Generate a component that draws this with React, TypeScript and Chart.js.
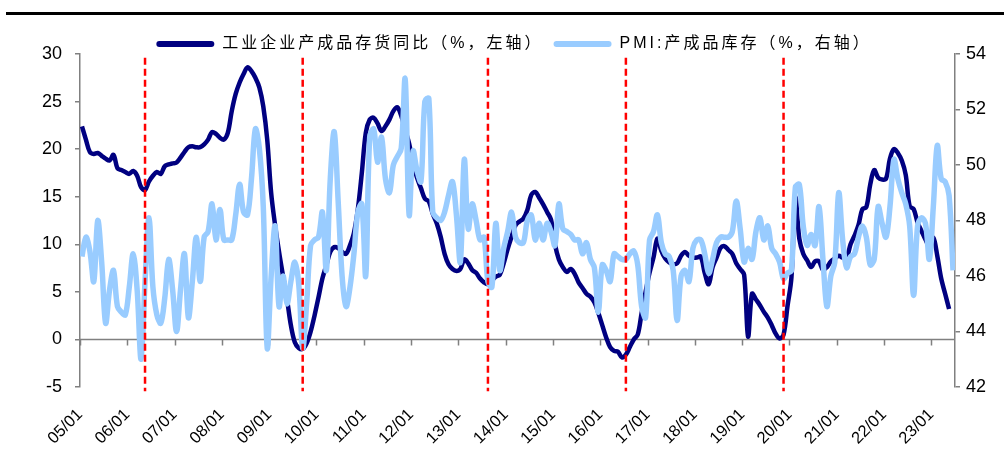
import React, { useEffect, useRef } from 'react';
import { Chart, registerables } from 'chart.js';

Chart.register(...registerables);

// Year tick labels (one per January, 2005–2023)
const tickLabels = [
  '05/01', '06/01', '07/01', '08/01', '09/01', '10/01', '11/01', '12/01', '13/01', '14/01',
  '15/01', '16/01', '17/01', '18/01', '19/01', '20/01', '21/01', '22/01', '23/01',
];

const seriesNames = ['工业企业产成品存货同比（%，左轴）', 'PMI:产成品库存（%，右轴）'];

// 工业企业产成品存货同比 (%), monthly from 2005-01 to 2023-05
const inventoryYoY = [
  22.4, 21.0, 19.7, 19.5, 19.6, 19.3, 19.0, 18.8, 19.4, 18.0, 17.8, 17.6,
  17.4, 17.7, 17.2, 16.0, 15.7, 16.6, 17.2, 17.6, 17.4, 18.2, 18.4, 18.5,
  18.6, 19.1, 19.7, 20.2, 20.3, 20.2, 20.2, 20.5, 21.0, 21.8, 21.6, 21.2,
  21.0, 21.7, 24.0, 25.8, 27.0, 27.9, 28.6, 28.2, 27.5, 26.5, 24.5, 21.0,
  15.4, 12.0, 9.2, 6.7, 4.3, 1.5, -0.3, -0.9, -1.0, -0.4, 0.8, 2.5,
  4.4, 6.4, 7.8, 9.2, 9.7, 9.6, 9.2, 9.0, 9.9, 11.2, 13.7, 17.5,
  21.7, 23.1, 23.3, 22.7, 21.9, 22.4, 23.1, 24.0, 24.4, 23.5, 22.0, 20.6,
  18.5, 17.0, 15.9, 14.8, 14.5, 13.2, 12.2, 10.8, 9.0, 7.9, 7.4, 7.2,
  7.4, 8.4, 8.0, 7.3, 7.0, 6.4, 6.0, 5.8, 6.2, 6.6, 6.8, 8.0,
  9.5, 10.8, 12.0, 12.4, 12.7, 13.6, 15.2, 15.5, 14.9, 14.2, 13.4, 12.6,
  10.0, 8.4, 7.6, 7.1, 7.4, 6.9, 6.0, 5.4, 4.8, 4.5, 3.9, 2.8,
  1.5, 0.2, -0.8, -1.2, -1.3, -1.9, -1.6, -0.8, 0.0, 0.5, 2.8, 5.0,
  7.0, 8.6, 10.6, 9.3, 8.5, 8.1, 7.9, 8.0, 8.8, 9.2, 8.8, 8.6,
  8.6, 8.7, 7.0, 5.8, 7.6, 8.6, 9.6, 9.8, 9.4, 9.0, 8.0, 7.4,
  6.8, 0.3, 4.8, 4.2, 3.6, 2.9, 2.3, 1.5, 0.6, 0.1, 0.5, 3.5,
  6.5, 14.9, 10.6, 9.0, 8.3, 7.6, 8.2, 8.2, 7.3, 7.6, 8.2, 8.5,
  8.8, 8.6, 8.6, 10.0, 10.9, 12.0, 13.7, 13.9, 16.3, 17.8, 17.0, 16.8,
  16.9, 19.0, 20.0, 19.6, 18.8, 17.3, 14.0, 13.7, 12.3, 11.4, 10.5, 9.8,
  10.7, 8.8, 6.4, 4.8, 3.2,
];

// PMI:产成品库存 (%), monthly from 2005-01 to 2023-06
const pmiInventory = [
  46.7, 47.4, 46.9, 45.8, 48.0, 46.5, 44.3, 45.5, 46.2, 44.9, 44.7, 44.6,
  45.6, 46.8, 45.5, 43.0, 45.8, 48.1, 45.6, 44.6, 44.3, 45.2, 46.6, 45.5,
  44.0, 45.5, 46.8, 44.5, 45.8, 47.4, 45.8, 47.4, 47.6, 48.6, 47.3, 48.4,
  47.3, 47.3, 47.3, 48.2, 49.3, 48.3, 48.2, 49.5, 51.3, 50.6, 48.5, 43.4,
  46.0, 47.8, 44.9, 46.0, 45.0, 45.8, 46.5, 45.7, 43.4, 45.0, 47.1, 47.3,
  47.4, 48.3, 46.2, 49.5, 51.2, 48.7, 46.0, 44.9, 45.6, 46.8, 48.3, 48.6,
  46.0, 51.0, 51.3, 50.1, 51.0, 49.5, 49.0, 50.0, 50.3, 50.6, 53.1, 48.2,
  50.5, 49.8, 49.4, 52.3, 52.4, 48.3, 48.1, 48.0, 48.3, 48.9, 49.4, 48.2,
  46.5, 50.2, 47.7, 48.6, 48.0, 47.3, 47.4, 45.8, 45.6, 47.9, 46.2, 47.0,
  47.6, 48.3, 47.4, 47.2, 47.2, 48.0, 48.2, 47.3, 47.9, 47.3, 47.9, 47.6,
  47.1, 48.6, 47.7, 47.6, 47.5, 47.3, 47.3, 46.8, 47.2, 46.6, 46.3, 44.7,
  46.4, 46.2, 45.8, 46.8, 46.7, 46.6, 46.6, 46.8, 46.9, 46.4, 44.9, 44.5,
  47.3, 47.6, 48.2, 47.2, 46.8, 46.7, 46.2, 44.4, 46.0, 46.2, 45.8, 47.0,
  47.3, 47.3, 46.8, 46.1, 46.6, 47.2, 47.4, 47.4, 47.4, 47.6, 48.7, 47.7,
  46.5, 47.0, 46.6, 47.6, 48.1, 47.3, 47.8, 47.0, 46.8, 46.5, 45.9, 46.1,
  46.2, 49.2, 49.3, 47.8, 47.1, 47.5, 47.1, 48.5, 46.6, 44.9, 46.0, 46.5,
  49.0, 47.3, 46.3, 46.7, 46.8, 47.4, 47.8, 47.4, 46.4, 46.6, 48.5, 47.9,
  47.4, 48.5, 50.2, 49.5, 49.0, 48.6, 47.8, 45.3, 47.8, 48.1, 47.9, 46.6,
  48.5, 50.7, 49.5, 49.4, 48.9, 46.2,
];

// Inventory-cycle troughs marked with red dashed lines
const troughMonths = ['2006-05', '2009-09', '2013-08', '2016-07', '2019-11'];

const NAVY = '#000080';
const LIGHT = '#99CCFF';
const AXIS = '#808080';
const LATIN = "'Liberation Sans', Arial, sans-serif";
const MIXED = "'Liberation Sans', 'Noto Sans CJK SC', sans-serif";

const LEGEND_PAD = 10;
const LEGEND_FONT = 16;
const LEGEND_CENTER_Y = 44;
const LEGEND_DX = 12;

const monthPos = (m: string) => {
  const [y, mo] = m.split('-').map(Number);
  return (y - 2005) * 12 + (mo - 1) + 0.5;
};

const legendTweaks = {
  id: 'legendTweaks',
  beforeUpdate(chart: any) {
    const lg = chart.legend;
    if (lg && !lg.__patched) {
      lg.__patched = true;
      const fit = lg.fit.bind(lg);
      const draw = lg.draw.bind(lg);
      lg.fit = () => {
        const c: any = chart.ctx;
        c.save();
        c.letterSpacing = '3px';
        fit();
        c.restore();
      };
      lg.draw = (...a: any[]) => {
        const c: any = chart.ctx;
        c.save();
        c.letterSpacing = '3px';
        draw(...a);
        c.restore();
      };
    }
  },
  afterLayout(chart: any) {
    const lg = chart.legend;
    if (!lg) return;
    const dy = LEGEND_CENTER_Y - LEGEND_FONT / 2 - LEGEND_PAD - lg.top;
    lg.top += dy;
    lg.bottom += dy;
    lg.left += LEGEND_DX;
    lg.right += LEGEND_DX;
  },
};

const zeroAxis = {
  id: 'zeroAxis',
  beforeDatasetsDraw(chart: any) {
    const { ctx, chartArea, scales } = chart;
    const y0 = scales.yL.getPixelForValue(0);
    ctx.save();
    ctx.strokeStyle = AXIS;
    ctx.lineWidth = 1.5;
    ctx.beginPath();
    ctx.moveTo(chartArea.left, y0);
    ctx.lineTo(chartArea.right, y0);
    for (const t of scales.x.ticks) {
      const px = Math.round(scales.x.getPixelForValue(t.value)) + 0.5;
      ctx.moveTo(px, y0);
      ctx.lineTo(px, y0 + 6);
    }
    ctx.stroke();
    ctx.restore();
  },
};

export default function App() {
  const ref = useRef<HTMLCanvasElement>(null);

  useEffect(() => {
    const toPts = (arr: number[]) => arr.map((v, i) => ({ x: i + 0.5, y: v }));
    const dashSets = troughMonths.map((m) => ({
      label: 'trough ' + m,
      data: [
        { x: monthPos(m), y: 29.6 },
        { x: monthPos(m), y: -5.45 },
      ],
      yAxisID: 'yL',
      borderColor: '#FF0000',
      backgroundColor: '#FF0000',
      borderWidth: 2.5,
      borderDash: [7, 4],
      pointRadius: 0,
      tension: 0,
      clip: false as any,
      order: 0,
    }));

    const chart = new Chart(ref.current as HTMLCanvasElement, {
      type: 'line',
      data: {
        datasets: [
          {
            label: seriesNames[0],
            data: toPts(inventoryYoY),
            yAxisID: 'yL',
            borderColor: NAVY,
            backgroundColor: NAVY,
            borderWidth: 4.5,
            pointRadius: 0,
            tension: 0.35,
            order: 2,
          },
          {
            label: seriesNames[1],
            data: toPts(pmiInventory),
            yAxisID: 'yR',
            borderColor: LIGHT,
            backgroundColor: LIGHT,
            borderWidth: 5.5,
            pointRadius: 0,
            tension: 0.35,
            order: 1,
          },
          ...dashSets,
        ] as any,
      },
      options: {
        responsive: false,
        animation: false,
        events: [],
        layout: { padding: { top: 18, left: 0, right: 0, bottom: 0 } },
        plugins: {
          tooltip: { enabled: false },
          legend: {
            position: 'top',
            align: 'center',
            labels: {
              boxWidth: 58,
              boxHeight: 6,
              padding: LEGEND_PAD,
              color: '#000',
              useBorderRadius: true,
              borderRadius: 3,
              font: { family: MIXED, size: LEGEND_FONT },
              generateLabels: (c: any) =>
                (Chart.defaults.plugins.legend.labels.generateLabels as any)(c)
                  .filter((l: any) => l.datasetIndex < 2)
                  .sort((a: any, b: any) => a.datasetIndex - b.datasetIndex)
                  .map((l: any) => ({ ...l, lineWidth: 0, fillStyle: l.strokeStyle })),
            } as any,
          },
        },
        scales: {
          x: {
            type: 'linear',
            min: 0,
            max: pmiInventory.length,
            afterBuildTicks: (s: any) => {
              s.ticks = tickLabels.map((_, k) => ({ value: k * 12 }));
            },
            afterFit: (s: any) => {
              s.height = 67;
            },
            grid: { display: false, drawTicks: false },
            border: { display: false },
            ticks: {
              autoSkip: false,
              minRotation: 45,
              maxRotation: 45,
              padding: 18,
              color: '#000',
              font: { family: LATIN, size: 16.5 },
              callback: (_v: any, i: number) => tickLabels[i],
            },
          },
          yL: {
            type: 'linear',
            position: 'left',
            min: -5,
            max: 30,
            afterFit: (s: any) => {
              s.width = 80;
            },
            ticks: { stepSize: 5, padding: 13, color: '#000', font: { family: LATIN, size: 18 } },
            grid: { drawOnChartArea: false, tickLength: 5, color: AXIS, lineWidth: 1.5 },
            border: { color: AXIS, width: 1.5 },
          },
          yR: {
            type: 'linear',
            position: 'right',
            min: 42,
            max: 54,
            afterFit: (s: any) => {
              s.width = 49;
            },
            ticks: { stepSize: 2, padding: 6, color: '#000', font: { family: LATIN, size: 18 } },
            grid: { drawOnChartArea: false, tickLength: 5, color: AXIS, lineWidth: 1.5 },
            border: { color: AXIS, width: 1.5 },
          },
        },
      } as any,
      plugins: [legendTweaks, zeroAxis],
    });
    return () => chart.destroy();
  }, []);

  return (
    <div style={{ position: 'absolute', left: 0, top: 0, width: 1004, height: 454, background: '#fff' }}>
      <div style={{ position: 'absolute', left: 6, top: 12, width: 998, height: 3, background: '#000' }} />
      <canvas ref={ref} width={1004} height={454} style={{ position: 'absolute', left: 0, top: 0 }} />
    </div>
  );
}
